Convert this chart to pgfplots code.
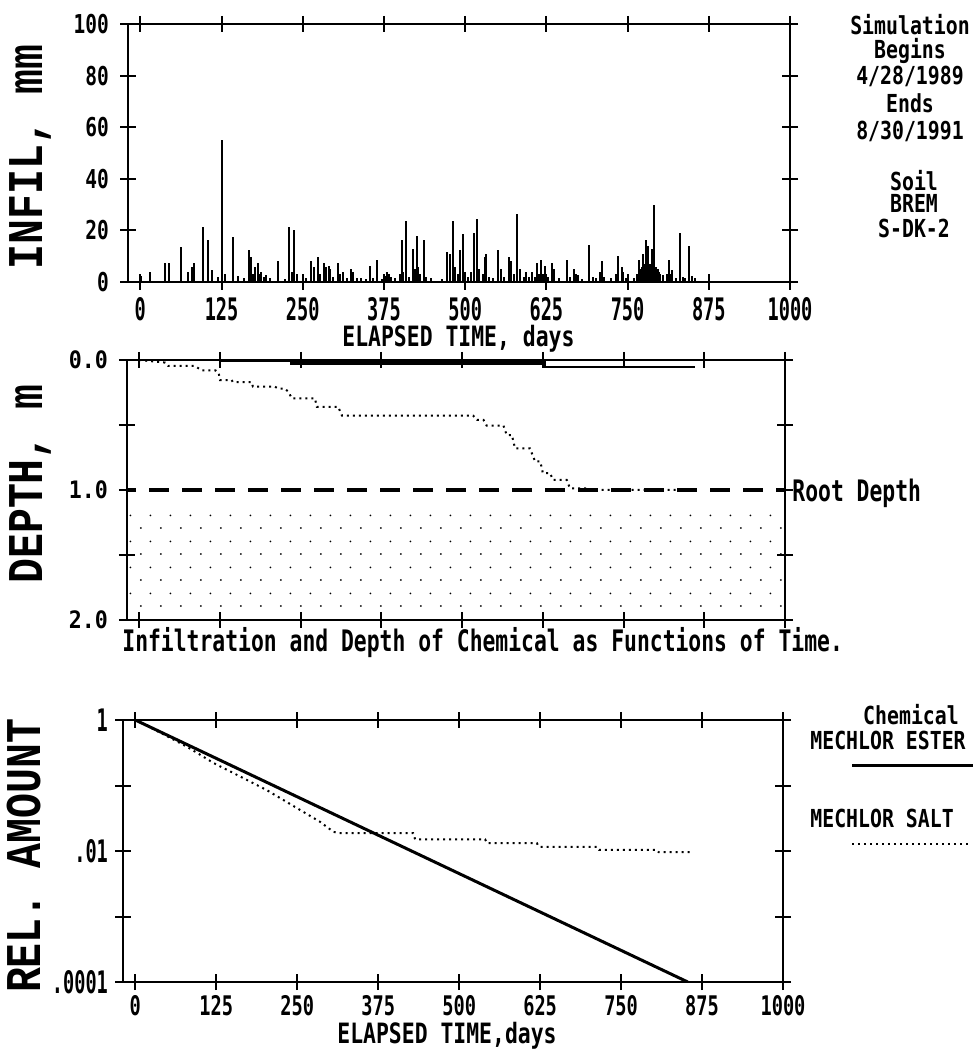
\documentclass[border=0pt]{standalone}
\usepackage{fontspec}
\usepackage{pgfplots}
\usepackage{pgfplotstable}
\pgfplotsset{compat=1.18}
\usetikzlibrary{patterns.meta}

\setmainfont{DejaVu Sans Mono}[UprightFont=* Bold]
\newfontfamily\tickfont{DejaVu Sans Mono}[UprightFont=* Bold, FakeStretch=0.6]
\newfontfamily\lowtickfont{DejaVu Sans Mono}[UprightFont=* Bold, FakeStretch=0.69]
\newfontfamily\infiltickfont{DejaVu Sans Mono}[UprightFont=* Bold, FakeStretch=0.75]
\newfontfamily\depthtickfont{DejaVu Sans Mono}[UprightFont=* Bold, FakeStretch=0.9]
\newfontfamily\notefont{DejaVu Sans Mono}[UprightFont=* Bold, FakeStretch=0.8]
\newfontfamily\capfont{DejaVu Sans Mono}[UprightFont=* Bold, FakeStretch=0.722]
\newfontfamily\axisfont{DejaVu Sans Mono}[UprightFont=* Bold, FakeStretch=0.765]
\newfontfamily\labelfont{Liberation Mono}[UprightFont=* Bold, FakeStretch=0.83]

% daily infiltration, mm
\pgfplotstableread{
day mm
1.5 2.3
15 4
38 7.5
44 7.2
63 13.7
74 4
79 6
82 7.5
97 21.4
104 16.3
111 4.8
120 2
125.6 55
130 3
142 17.3
151 2.3
160 1.5
168 12.4
171 9.7
173 3
176 5.8
181 7.5
184 3
186 4
190 2
194 2.8
200 1.5
212 8
222 1.2
229 21.4
233 4
237 20.2
241 3
251 2.3
255 1.5
263 8
267 5.8
273 9.8
277 3
282 7.5
286 6
290 6.2
292 5
297 2
305 7.5
308 3
312 3.7
318 1.5
324 4.9
328 4
334 1.5
340 1.5
347 1.2
353 6.2
358 1.5
365 8.7
372 1.2
378 2.5
380 3.7
383 3
386 2
392 1.5
399 3
402 16.3
405 4
409 23.8
413 2
420 12.7
423 5
426 17.9
428 6
431 3
436 16.3
440 2
448 1.5
465 1.2
472 11.6
477 10.9
482 23.8
485 6
489 3
492 12.4
497 18.6
500 4
505 2
509 4
513 19.1
518 24.6
521 5
527 3
530 9.8
532 11
536 2
543 1.5
550 12.4
555 4.9
560 2
567 9.8
571 8
575 3
580 26.3
585 5
590 2
594 3.7
599 2
603 4
607 2
610 7.5
614 3
617 8.7
620 3
623 6.2
628 2
633 7.5
637 5
645 1.5
656 8.7
661 2
667 5
670 3
674 2.8
680 1.2
691 14.5
696 2
702 1.5
708 4
710 8
714 2
725 1.5
732 3
736 10
741 6
743 4
747 1.5
750 2.8
760 1.5
765 3
767 8.7
770 4
771 5
772 6
773 4.5
774 11
775 5
776 7
777 5.5
778 6
779 16.3
780 5
781 6
782 14
783 5
784 7
785 6
786 5
787 6
788 12.7
789 5
790 6
791 30
792 5
793 6
794 6
795 5
796 4
797 5
798 4
800 3
805 2.8
810 3
813 8.7
815 3
818 4.8
825 1.5
831 19
835 2
838 1.5
844 14
849 2.3
854 1.5
}\infil

% depth of the salt front, m
\pgfplotstableread{
day depth
0 0
40 0.02
45 0.046
86 0.046
97 0.08
118 0.08
123 0.1
125 0.154
143 0.154
145 0.17
174 0.17
176 0.205
210 0.205
215 0.22
225 0.22
231 0.244
236 0.295
272 0.295
275 0.36
308 0.36
314 0.428
517 0.428
523 0.46
533 0.46
538 0.505
564 0.505
569 0.577
577 0.577
582 0.68
605 0.68
613 0.78
621 0.78
625 0.87
636 0.87
641 0.923
662 0.923
667 0.987
693 0.987
698 1.0
860 1.0
}\saltdepth

% relative amount remaining
\pgfplotstableread{
day rel
0 1
853 0.0001
}\ester

\pgfplotstableread{
day rel
0 1
40 0.63
80 0.39
121 0.22
152 0.154
203 0.085
255 0.042
285 0.028
306 0.0196
315 0.0187
429 0.0187
432 0.0151
540 0.0151
543 0.0132
620 0.0132
623 0.0116
713 0.0116
716 0.0104
805 0.0104
808 0.0096
858 0.0096
}\salt

% staggered dots marking the soil below the root zone
\tikzdeclarepattern{
  name=soildots,
  type=uncolored,
  bounding box={(0pt,0pt) and (9.75pt,13pt)},
  tile size={(9.75pt,13pt)},
  code={
    \fill (2pt,0.5pt) circle (0.5pt);
    \fill (6.875pt,7pt) circle (0.5pt);
  }
}

\tikzset{dotline/.style={line width=1pt, dash pattern=on 1pt off 2pt}}

\pgfplotsset{
  panel/.style={
    scale only axis,
    xmin=-19, xmax=1000,
    axis line style={line width=1.1pt},
    every tick/.style={line width=1pt, black},
    tick align=center,
    major tick length=8pt,
    xtick={0,125,...,1000},
    tick label style={font=\tickfont\fontsize{15.5pt}{15.5pt}\selectfont},
    /pgf/number format/assume math mode=true,
    /pgf/number format/set thousands separator={},
    clip=true,
  },
}

\begin{document}
\begin{tikzpicture}
\useasboundingbox (0,0) rectangle (489.5pt,524.5pt);

% infiltration
\begin{axis}[panel,
  at={(64pt,383.5pt)}, anchor=south west,
  width=331pt, height=129pt,
  ymin=0, ymax=100, ytick={0,20,...,100},
  yticklabel style={font=\infiltickfont\fontsize{13pt}{13pt}\selectfont, xshift=-2pt},
]
\addplot[ycomb, line width=1pt, black] table[x=day, y=mm] {\infil};
\end{axis}

% depth of chemical
\begin{axis}[panel,
  at={(63.5pt,214.5pt)}, anchor=south west,
  width=329pt, height=130pt,
  y dir=reverse, ymin=0, ymax=2,
  ytick={0,0.5,...,2}, yticklabels={0.0,,1.0,,2.0},
  yticklabel style={font=\depthtickfont\fontsize{12pt}{12pt}\selectfont, xshift=-2pt},
  xticklabels={},
]
\addplot[draw=none, pattern=soildots] coordinates {(-19,1.16) (1000,1.16) (1000,1.97) (-19,1.97)} -- cycle;
\addplot[line width=2pt, dash pattern=on 10pt off 6.5pt, dash phase=5.5pt] coordinates {(-19,1) (1000,1)};
\addplot[line width=0.8pt] coordinates {(125,0.008) (234,0.008)};
\addplot[line width=2.5pt] coordinates {(234,0.022) (628,0.022)};
\addplot[line width=0.8pt] coordinates {(628,0.01) (628,0.052) (860,0.052)};
\addplot[dotline] table[x=day, y=depth] {\saltdepth};
\end{axis}

% relative amount
\begin{axis}[panel,
  at={(61.5pt,33.5pt)}, anchor=south west,
  width=330pt, height=131pt,
  ymode=log, ymin=0.0001, ymax=1,
  ytick={1,0.1,0.01,0.001,0.0001}, yticklabels={1,,.01,,.0001},
  yminorticks=false,
  xticklabel style={font=\lowtickfont\fontsize{13.5pt}{13.5pt}\selectfont, yshift=1pt},
]
\addplot[line width=1.5pt] table[x=day, y=rel] {\ester};
\addplot[dotline] table[x=day, y=rel] {\salt};
\end{axis}

% axis titles
\node[rotate=90, font=\labelfont\fontsize{25pt}{25pt}\selectfont] at (15pt,446pt) {INFIL, mm};
\node[rotate=90, font=\labelfont\fontsize{25pt}{25pt}\selectfont] at (15pt,282.5pt) {DEPTH, m};
\node[rotate=90, font=\labelfont\fontsize{25pt}{25pt}\selectfont] at (12pt,96.5pt) {REL. AMOUNT};

\node[anchor=base west, inner sep=0pt, font=\axisfont\fontsize{14pt}{14pt}\selectfont] at (171pt,351pt) {ELAPSED TIME, days};
\node[anchor=base west, inner sep=0pt, font=\axisfont\fontsize{14pt}{14pt}\selectfont] at (168.5pt,2.5pt) {ELAPSED TIME,days};

\node[anchor=base west, inner sep=0pt, font=\capfont\fontsize{14.8pt}{14.8pt}\selectfont] at (61pt,198.5pt) {Infiltration and Depth of Chemical as Functions of Time.};
\node[anchor=base west, inner sep=0pt, font=\capfont\fontsize{14.8pt}{14.8pt}\selectfont] at (396pt,273.5pt) {Root Depth};

% run information
\begin{scope}[every node/.style={anchor=base, inner sep=0pt, font=\notefont\fontsize{12.4pt}{12.4pt}\selectfont}]
\node at (455pt,507pt) {Simulation};
\node at (455pt,495pt) {Begins};
\node at (455pt,482pt) {4/28/1989};
\node at (455pt,468pt) {Ends};
\node at (455pt,454.5pt) {8/30/1991};
\node at (457pt,429pt) {Soil};
\node at (457pt,418pt) {BREM};
\node at (457pt,405.5pt) {S-DK-2};
\node at (455.5pt,162pt) {Chemical};
\node[anchor=base west] at (405pt,149.5pt) {MECHLOR ESTER};
\node[anchor=base west] at (405pt,110.5pt) {MECHLOR SALT};
\end{scope}
\draw[line width=1.5pt] (426pt,141.5pt) -- (486.5pt,141.5pt);
\draw[dotline] (426pt,102.5pt) -- (485pt,102.5pt);
\end{tikzpicture}
\end{document}
